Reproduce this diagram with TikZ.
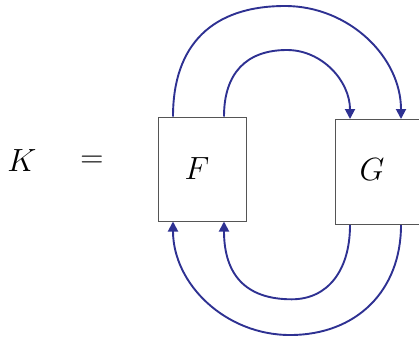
\documentclass[tikz,border=0pt]{standalone}
\usepackage{graphicx}
\usetikzlibrary{arrows.meta}
\definecolor{wire}{RGB}{46,49,146}
\definecolor{boxc}{RGB}{85,85,85}
\newcommand{\biglab}[1]{\scalebox{1.29}{\fontsize{24.88}{30}\selectfont$#1$}}
\begin{document}
\begin{tikzpicture}[x=1pt,y=-1pt,
  wirel/.style={draw=wire,line width=1.9pt},
  tipe/.style={-{Triangle[length=10pt,width=10pt]}},
  box/.style={draw=boxc,line width=1pt,rectangle,inner sep=0pt},
  lab/.style={inner sep=0pt}]
\clip (0,0) rectangle (419,338);
\node[box,minimum width=88pt,minimum height=104pt] (F) at (202,169) {};
\node[lab] (Fl) at (197,169) {\biglab{F}};
\node[box,minimum width=110pt,minimum height=105pt,anchor=north west] (G) at (335,119) {};
\node[lab] (Gl) at (372,170) {\biglab{G}};
\node[lab] (K) at (22,161) {\biglab{K}};
\node[lab] (eq) at (92,162) {\biglab{=}};
% top wires
\draw[wirel,tipe] ([xshift=-29pt]F.north) .. controls (173,45) and (212,6) .. (285,6)
  .. controls (349,6) and (401,57) .. ([xshift=66pt]G.north west);
\draw[wirel,tipe] ([xshift=22pt]F.north) .. controls (224,73.5) and (246,50) .. (287,50)
  .. controls (322,50) and (350,81) .. ([xshift=15pt]G.north west);
% bottom wires
\draw[wirel,tipe] ([xshift=66pt]G.south west) .. controls (401,290.6) and (356.6,335) .. (290,335)
  .. controls (225.4,335) and (173,284) .. ([xshift=-29pt]F.south);
\draw[wirel,tipe] ([xshift=15pt]G.south west) .. controls (350,270.5) and (327.7,299.3) .. (291.7,299.3)
  .. controls (245,299.3) and (224,274) .. ([xshift=22pt]F.south);
\end{tikzpicture}
\end{document}
